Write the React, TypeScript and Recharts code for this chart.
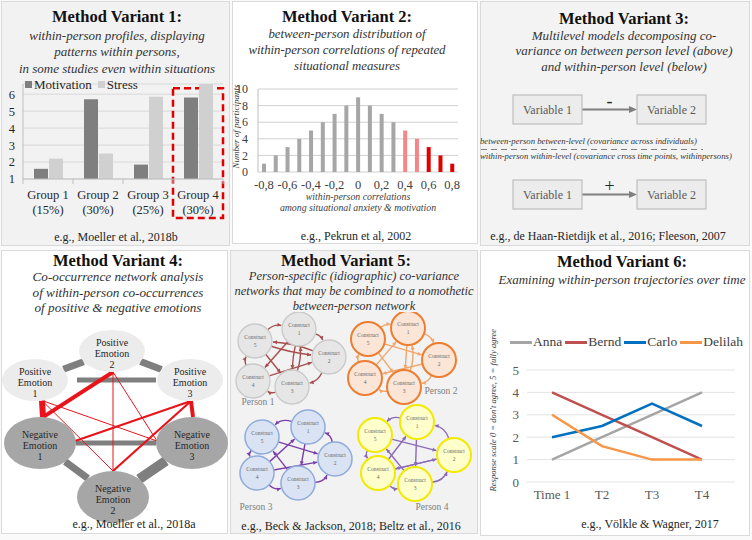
import React from 'react';
import {
  BarChart, Bar, Cell, XAxis, YAxis, CartesianGrid, Legend, LineChart, Line,
  ScatterChart, Scatter, ReferenceLine, ReferenceArea, Label,
} from 'recharts';

const SERIF = '"Liberation Serif", "DejaVu Serif Condensed", "DejaVu Serif", serif';

// ---- Variant 1: within-person profiles
const groupNames = ['Group 1', 'Group 2', 'Group 3', 'Group 4'];
const groupShares = ['(15%)', '(30%)', '(25%)', '(30%)'];
const motivation = [1.6, 5.7, 1.85, 5.8];
const stress = [2.2, 2.5, 5.85, 6.6];
const profileTicks = [1, 2, 3, 4, 5, 6];

// ---- Variant 2: distribution of within-person correlations
const corrLabels = ['-0,8', '-0,7', '-0,6', '-0,5', '-0,4', '-0,3', '-0,2', '-0,1', '0',
  '0,1', '0,2', '0,3', '0,4', '0,5', '0,6', '0,7', '0,8'];
const participants = [1, 2, 3, 4, 5, 6, 7, 8, 9, 8, 7, 6, 5, 4, 3, 2, 1];
const participantTicks = [0, 2, 4, 6, 8, 10];

// ---- Variant 3: multilevel decomposition
const variables = ['Variable 1', 'Variable 2'];
const levelSigns = ['-', '+'];
const levelNotes = [
  'between-person between-level (covariance across individuals)',
  'within-person within-level (covariance cross time points, withinpersons)',
];

// ---- Variant 4: co-occurrence network
const emotionNodes = [
  { id: 'P1', valence: 'Positive', n: 1 },
  { id: 'P2', valence: 'Positive', n: 2 },
  { id: 'P3', valence: 'Positive', n: 3 },
  { id: 'N1', valence: 'Negative', n: 1 },
  { id: 'N2', valence: 'Negative', n: 2 },
  { id: 'N3', valence: 'Negative', n: 3 },
];
// [from, to, strength]
const sameValenceLinks: [string, string, number][] = [
  ['P1', 'P2', 7], ['P2', 'P3', 7], ['P1', 'P3', 5],
  ['N1', 'N3', 5], ['N1', 'N2', 7], ['N2', 'N3', 10],
];
const crossValenceLinks: [string, string, number][] = [
  ['P2', 'N1', 4], ['P1', 'N1', 6], ['P3', 'N3', 4], ['P3', 'N1', 2.2], ['P3', 'N2', 2.2],
  ['P2', 'N2', 1], ['P2', 'N3', 1], ['P1', 'N3', 1], ['P1', 'N2', 1],
];

// ---- Variant 5: idiographic networks
const personNames = ['Person 1', 'Person 2', 'Person 3', 'Person 4'];
const constructIds = [1, 2, 3, 4, 5];
// [from, to, bend]
const personLinks: number[][][] = [
  [[5, 1, -0.25], [1, 2, -0.25], [2, 3, -0.25], [3, 4, -0.25], [4, 5, -0.25], [5, 2, 0.05], [5, 3, 0], [1, 3, 0.05], [1, 4, 0], [4, 2, 0], [2, 5, 0.08], [3, 1, 0.1]],
  [[5, 1, -0.25], [1, 2, -0.25], [2, 3, -0.25], [3, 4, -0.25], [4, 5, -0.25], [4, 1, 0], [5, 3, 0], [1, 3, 0], [2, 4, 0], [5, 2, 0], [3, 1, 0.15]],
  [[1, 5, 0.3], [2, 1, 0.3], [3, 2, 0.3], [4, 3, 0.3], [5, 4, 0.3], [5, 2, 0], [4, 1, 0], [4, 2, 0], [3, 5, 0], [1, 3, 0]],
  [[1, 5, 0.3], [2, 1, 0.3], [3, 2, 0.3], [4, 3, 0.3], [5, 4, 0.3], [5, 2, 0], [4, 1, 0], [4, 2, 0], [3, 5, 0], [1, 3, 0], [2, 4, 0]],
];

// ---- Variant 6: trajectories
const timePoints = ['Time 1', 'T2', 'T3', 'T4'];
const anna = [1, 2, 3, 4];
const bernd = [4, 3, 2, 1];
const carlo = [2, 2.5, 3.5, 2.5];
const delilah = [3, 1.6, 1, 1];
const scaleTicks = [0, 1, 2, 3, 4, 5];

// ---------- layout / style (not data)
const panels = [
  { left: 1, top: 1, width: 229, height: 245, bg: '#f2f2f2' },
  { left: 232, top: 1, width: 246, height: 243, bg: '#ffffff' },
  { left: 480, top: 1, width: 270, height: 245, bg: '#f3f3f3' },
  { left: 1, top: 250, width: 227, height: 284, bg: '#ffffff' },
  { left: 230, top: 250, width: 248, height: 284, bg: '#f2f2f2' },
  { left: 480, top: 250, width: 270, height: 286, bg: '#ffffff' },
];

const emotionLayout: Record<string, [number, number]> = {
  P1: [35, 380], P2: [112, 351], P3: [190, 380],
  N1: [40, 443], N2: [113, 497], N3: [192, 443],
};
const ELLIPSE: Record<string, { rx: number; ry: number; fill: string }> = {
  Positive: { rx: 33, ry: 21, fill: '#ececec' },
  Negative: { rx: 36, ry: 26, fill: '#a6a6a6' },
};
const sourceShift: Record<string, number> = { P1: 7, P2: 1, P3: 1 };
const targetSide: Record<string, string> = { 'P3-N1': 'right', 'P2-N3': 'left', 'P1-N3': 'left' };
const targetShift: Record<string, number> = { N1: 3, N2: 0, N3: 1 };

const personLayout: Record<number, [number, number]>[] = [
  { 1: [299, 329], 2: [329, 357], 3: [292, 387], 4: [253, 381], 5: [255, 341] },
  { 1: [408, 328], 2: [439, 360], 3: [404, 387], 4: [365, 378], 5: [368, 339] },
  { 1: [308, 427], 2: [335, 459], 3: [298, 483], 4: [257, 473], 5: [262, 437] },
  { 1: [417, 422], 2: [454, 455], 3: [415, 484], 4: [378, 473], 5: [375, 435] },
];
const personLabelPos = [[258, 403], [441, 392], [256, 508], [432, 508]];
const personStyles = [
  { fill: '#e7e6e6', stroke: '#c9c9c9', sw: 1.3, edge: '#a5504e' },
  { fill: '#fbe5d6', stroke: '#ed7d31', sw: 2, edge: '#f2a66b' },
  { fill: '#dae3f3', stroke: '#8fabdc', sw: 1.5, edge: '#7a3fa8' },
  { fill: '#ffffcc', stroke: '#f2ea00', sw: 2, edge: '#8a6bb5' },
];
const R5 = 17;

const BOX_W = 69;
const BOX_H = 29;
const boxCols = [547.5, 671.5];
const boxRows = [109.5, 194.5];

// ---------- derived tables
const profileData = groupNames.map((group, i) => ({ group, Motivation: motivation[i], Stress: stress[i] }));
const corrData = corrLabels.map((r, i) => ({ r, n: participants[i] }));
const corrColor = (i: number) => (i >= 14 ? '#e00000' : i >= 12 ? '#f4868a' : '#a6a6a6');
const trajectoryData = timePoints.map((t, i) => ({ t, Anna: anna[i], Bernd: bernd[i], Carlo: carlo[i], Delilah: delilah[i] }));
const boxData = levelSigns.flatMap((_, r) => variables.map((v, c) => ({ x: boxCols[c], y: boxRows[r], label: v })));
const emotionData = emotionNodes.map((e) => ({ ...e, x: emotionLayout[e.id][0], y: emotionLayout[e.id][1] }));

// ---------- text helpers
const Txt = ({ cx, cy, size, weight = 400, italic = false, color = '#262626', w = 320, children }: any) => (
  <div style={{
    position: 'absolute', left: cx - w / 2, top: cy - size * 0.65, width: w, textAlign: 'center',
    fontSize: size, lineHeight: `${size * 1.2}px`, fontWeight: weight,
    fontStyle: italic ? 'italic' : 'normal', color, whiteSpace: 'nowrap', fontFamily: SERIF,
    pointerEvents: 'none',
  }}>{children}</div>
);

const Heading = ({ cx, titleY, title, lines, subY, step = 16, subSize = 13, subCx }: any) => (
  <>
    <Txt cx={cx} cy={titleY} size={16.5} weight={700} color="#111">{title}</Txt>
    {lines.map((l: string, i: number) => (
      <Txt key={i} cx={subCx ?? cx} cy={subY + i * step} size={subSize} italic color="#333">{l}</Txt>
    ))}
  </>
);

// rotated axis title, placed beside a vertical axis
const SideTitle = ({ cx, cy, size, children }: any) => (
  <div style={{
    position: 'absolute', left: cx - 120, top: cy - size * 0.6, width: 240, textAlign: 'center',
    fontSize: size, lineHeight: `${size * 1.2}px`, fontStyle: 'italic', color: '#333', whiteSpace: 'nowrap',
    fontFamily: SERIF, transform: 'rotate(-90deg)', transformOrigin: '50% 50%',
  }}>{children}</div>
);

// ---------- Variant 1
const GroupTick = (props: any) => {
  const { x, y, payload, index } = props;
  return (
    <g>
      <line x1={x - 25} y1={y - 8} x2={x - 25} y2={y - 3} stroke="#bfbfbf" />
      {index === groupNames.length - 1 && <line x1={x + 25} y1={y - 8} x2={x + 25} y2={y - 3} stroke="#bfbfbf" />}
      <text x={x} y={y} textAnchor="middle" fontFamily={SERIF} fontSize={12.5} fill="#262626">
        <tspan x={x} dy={12}>{payload.value}</tspan>
        <tspan x={x} dy={14.5}>{groupShares[index]}</tspan>
      </text>
    </g>
  );
};

const ProfileLegend = ({ payload }: any) => (
  <div style={{ display: 'flex', fontFamily: SERIF, fontSize: 13, color: '#262626', lineHeight: '15px', whiteSpace: 'nowrap' }}>
    {(payload || []).map((p: any) => (
      <span key={p.value} style={{ display: 'flex', alignItems: 'center', marginRight: 6 }}>
        <span style={{ width: 7, height: 7, background: p.color, marginRight: 2 }} />
        {p.value}
      </span>
    ))}
  </div>
);

const ProfileChart = () => (
  <BarChart width={230} height={160} data={profileData} margin={{ top: 14, right: 7, left: 5, bottom: 11 }}
    barGap={1} barCategoryGap={11}>
    <CartesianGrid vertical={false} stroke="#d9d9d9" />
    <XAxis dataKey="group" height={40} interval={0} axisLine={{ stroke: '#bfbfbf' }} tickLine={false} tick={<GroupTick />} />
    <YAxis domain={[1, 6.6]} ticks={profileTicks} interval={0} width={18} axisLine={{ stroke: '#bfbfbf' }} tickLine={false}
      tick={{ fontFamily: SERIF, fontSize: 12.5, fill: '#262626' }} />
    <Legend verticalAlign="middle" align="center" layout="horizontal"
      wrapperStyle={{ top: 7, left: 25, width: 'auto' }} content={ProfileLegend} />
    <Bar dataKey="Motivation" fill="#7f7f7f" isAnimationActive={false} />
    <Bar dataKey="Stress" fill="#d0d0d0" isAnimationActive={false} />
    <ReferenceArea x1="Group 4" x2="Group 4" y1={-1.3} y2={6.35} ifOverflow="visible"
      fill="none" fillOpacity={0} stroke="#e00000" strokeWidth={2.5} strokeDasharray="7 4" />
  </BarChart>
);

// ---------- Variant 2
const CorrAxisTitle = ({ viewBox }: any) => {
  const cx = viewBox.x + viewBox.width / 2;
  return (
    <text x={cx} y={viewBox.y} textAnchor="middle" fontFamily={SERIF} fontSize={9.8} fontStyle="italic" fill="#404040">
      <tspan x={cx} dy={28}>within-person correlations</tspan>
      <tspan x={cx} dy={10.5}>among situational anxiety &amp; motivation</tspan>
    </text>
  );
};

const CorrChart = () => (
  <BarChart width={235} height={140} data={corrData} margin={{ top: 14, right: 10, left: 4, bottom: 0 }}>
    <CartesianGrid vertical={false} stroke="#d0d0d0" />
    <XAxis dataKey="r" height={43} interval={1} axisLine={false} tickLine={false}
      tick={{ fontFamily: SERIF, fontSize: 12.5, fill: '#404040' }}>
      <Label content={(p: any) => <CorrAxisTitle viewBox={p.viewBox} />} />
    </XAxis>
    <YAxis domain={[0, 10]} ticks={participantTicks} interval={0} width={21}
      axisLine={{ stroke: '#bfbfbf' }} tickLine={false} tickMargin={4}
      tick={{ fontFamily: SERIF, fontSize: 12, fill: '#404040' }} />
    <Bar dataKey="n" barSize={4} isAnimationActive={false}>
      {corrData.map((d, i) => <Cell key={d.r} fill={corrColor(i)} />)}
    </Bar>
  </BarChart>
);

// ---------- Variant 3
const VariableBox = ({ cx, cy, payload }: any) => (
  <g>
    <rect x={cx - BOX_W / 2} y={cy - BOX_H / 2} width={BOX_W} height={BOX_H} fill="#ececec" stroke="#bfbfbf" strokeWidth={1.2} />
    <text x={cx} y={cy + 4} textAnchor="middle" fontFamily={SERIF} fontSize={12} fill="#595959">{payload.label}</text>
  </g>
);

const FlowArrow = ({ x1, y1, x2, y2, sign }: any) => (
  <g>
    <line x1={x1} y1={y1} x2={x2 - 6} y2={y2} stroke="#808080" strokeWidth={1.8} />
    <polygon points={`${x2},${y2} ${x2 - 8},${y2 - 3.5} ${x2 - 8},${y2 + 3.5}`} fill="#808080" />
    <text x={(x1 + x2) / 2} y={y1 - 3} textAnchor="middle" fontSize={18} fontFamily={SERIF} fill="#262626">{sign}</text>
  </g>
);

const MultilevelDiagram = () => (
  <ScatterChart width={270} height={135} margin={{ top: 0, right: 0, bottom: 0, left: 0 }}>
    <XAxis type="number" dataKey="x" domain={[480, 750]} hide />
    <YAxis type="number" dataKey="y" domain={[85, 220]} reversed hide />
    <ReferenceLine segment={[{ x: 481, y: 149.5 }, { x: 703, y: 149.5 }]} stroke="#808080" strokeWidth={1.2} strokeDasharray="6 4" />
    {boxRows.map((row, r) => (
      <ReferenceLine key={r} segment={[{ x: boxCols[0] + BOX_W / 2, y: row }, { x: boxCols[1] - BOX_W / 2, y: row }]}
        shape={(p: any) => <FlowArrow {...p} sign={levelSigns[r]} />} />
    ))}
    <Scatter data={boxData} shape={(p: any) => <VariableBox {...p} />} isAnimationActive={false} />
  </ScatterChart>
);

// ---------- Variant 4
const valenceOf = (id: string) => (id[0] === 'P' ? 'Positive' : 'Negative');

const boundaryPoint = (id: string, tx: number, ty: number, gap = 0) => {
  const [cx, cy] = emotionLayout[id];
  const { rx, ry } = ELLIPSE[valenceOf(id)];
  const dx = tx - cx;
  const dy = ty - cy;
  const t = 1 / Math.sqrt((dx / rx) ** 2 + (dy / ry) ** 2);
  const len = Math.hypot(dx, dy);
  return { x: cx + dx * t + (dx / len) * gap, y: cy + dy * t + (dy / len) * gap };
};

const anchorPoint = (id: string, side: string, shift = 0) => {
  const [cx, cy] = emotionLayout[id];
  const { rx, ry } = ELLIPSE[valenceOf(id)];
  const h = ry * Math.sqrt(1 - (shift / rx) ** 2);
  if (side === 'left') return { x: cx - rx + 1, y: cy - 2 };
  if (side === 'right') return { x: cx + rx - 1, y: cy - 2 };
  if (side === 'top') return { x: cx + shift, y: cy - h };
  return { x: cx + shift, y: cy + h };
};

const EmotionNode = ({ cx, cy, payload }: any) => {
  const s = ELLIPSE[payload.valence];
  return (
    <g>
      <ellipse cx={cx} cy={cy} rx={s.rx} ry={s.ry} fill={s.fill} />
      <text textAnchor="middle" fontFamily={SERIF} fontSize={10} fill="#262626">
        <tspan x={cx} y={cy - 5.5}>{payload.valence}</tspan>
        <tspan x={cx} y={cy + 5.5}>Emotion</tspan>
        <tspan x={cx} y={cy + 16.5}>{payload.n}</tspan>
      </text>
    </g>
  );
};

const EmotionNetwork = () => (
  <ScatterChart width={226} height={214} margin={{ top: 0, right: 0, bottom: 0, left: 0 }}>
    <XAxis type="number" dataKey="x" domain={[2, 228]} hide />
    <YAxis type="number" dataKey="y" domain={[318, 532]} reversed hide />
    {sameValenceLinks.map(([a, b, w]) => {
      const [ax, ay] = emotionLayout[a];
      const [bx, by] = emotionLayout[b];
      const p1 = boundaryPoint(a, bx, by, a === 'P1' && b === 'P3' ? 9 : 0);
      const p2 = boundaryPoint(b, ax, ay, a === 'P1' && b === 'P3' ? 1 : 0);
      return <ReferenceLine key={a + b} segment={[p1, p2]} stroke="#7f7f7f" strokeWidth={w} />;
    })}
    <Scatter data={emotionData} shape={(p: any) => <EmotionNode {...p} />} isAnimationActive={false} />
    {crossValenceLinks.map(([a, b, w]) => {
      const p1 = anchorPoint(a, 'bottom', sourceShift[a]);
      const p2 = anchorPoint(b, targetSide[`${a}-${b}`] || 'top', targetShift[b]);
      return <ReferenceLine key={a + b} segment={[p1, p2]} stroke="#e8141b" strokeWidth={w} />;
    })}
  </ScatterChart>
);

// ---------- Variant 5
const ArcArrow = ({ x1, y1, x2, y2, bend, color, width }: any) => {
  const dx = x2 - x1;
  const dy = y2 - y1;
  const qx = (x1 + x2) / 2 - dy * bend;
  const qy = (y1 + y2) / 2 + dx * bend;
  const sl = Math.hypot(qx - x1, qy - y1);
  const sx = x1 + ((qx - x1) / sl) * R5;
  const sy = y1 + ((qy - y1) / sl) * R5;
  const el = Math.hypot(qx - x2, qy - y2);
  const ex = x2 + ((qx - x2) / el) * (R5 + 1);
  const ey = y2 + ((qy - y2) / el) * (R5 + 1);
  const ang = Math.atan2(ey - qy, ex - qx);
  const ah = 4.5;
  const h1 = `${ex - ah * Math.cos(ang - 0.45)},${ey - ah * Math.sin(ang - 0.45)}`;
  const h2 = `${ex - ah * Math.cos(ang + 0.45)},${ey - ah * Math.sin(ang + 0.45)}`;
  return (
    <g>
      <path d={`M${sx},${sy} Q${qx},${qy} ${ex},${ey}`} fill="none" stroke={color} strokeWidth={width} />
      <polygon points={`${ex},${ey} ${h1} ${h2}`} fill={color} />
    </g>
  );
};

const ConstructNode = ({ cx, cy, payload, look }: any) => (
  <g>
    <circle cx={cx} cy={cy} r={R5} fill={look.fill} stroke={look.stroke} strokeWidth={look.sw} />
    <text textAnchor="middle" fontFamily={SERIF} fontSize={5.5} fill="#666">
      <tspan x={cx} y={cy - 2}>Construct</tspan>
      <tspan x={cx} y={cy + 6}>{payload.n}</tspan>
    </text>
  </g>
);

const PersonNetworks = () => (
  <ScatterChart width={248} height={206} margin={{ top: 0, right: 0, bottom: 0, left: 0 }}>
    <XAxis type="number" dataKey="x" domain={[230, 478]} hide />
    <YAxis type="number" dataKey="y" domain={[312, 518]} reversed hide />
    {personLinks.flatMap((links, pi) => links.map(([a, b, bend], li) => {
      const pa = personLayout[pi][a];
      const pb = personLayout[pi][b];
      return (
        <ReferenceLine key={`${pi}-${li}`} segment={[{ x: pa[0], y: pa[1] }, { x: pb[0], y: pb[1] }]}
          shape={(p: any) => <ArcArrow {...p} bend={bend} color={personStyles[pi].edge} width={1.4} />} />
      );
    }))}
    {personNames.map((name, pi) => (
      <Scatter key={name} name={name} isAnimationActive={false}
        data={constructIds.map((n) => ({ n, x: personLayout[pi][n][0], y: personLayout[pi][n][1] }))}
        shape={(p: any) => <ConstructNode {...p} look={personStyles[pi]} />} />
    ))}
  </ScatterChart>
);

// ---------- Variant 6
const TrajectoryLegend = ({ payload }: any) => (
  <div style={{ display: 'flex', alignItems: 'center', fontFamily: SERIF, fontSize: 13.5, color: '#404040', lineHeight: '16px', whiteSpace: 'nowrap' }}>
    {(payload || []).map((p: any) => (
      <span key={p.value} style={{ display: 'flex', alignItems: 'center', marginRight: 3 }}>
        <span style={{ width: 22, height: 3, background: p.color, marginRight: 1 }} />
        {p.value}
      </span>
    ))}
  </div>
);

const TrajectoryChart = () => (
  <LineChart width={272} height={200} data={trajectoryData} margin={{ top: 50, right: 15, left: 29, bottom: 8 }}>
    <CartesianGrid vertical={false} stroke="#e3e3e3" />
    <XAxis dataKey="t" height={30} interval={0} axisLine={false} tickLine={false} padding={{ left: 25, right: 33 }}
      tick={{ fontFamily: SERIF, fontSize: 13, fill: '#595959' }} />
    <YAxis domain={[0, 5]} ticks={scaleTicks} interval={0} width={20} axisLine={false} tickLine={false}
      tick={{ fontFamily: SERIF, fontSize: 13, fill: '#595959' }} />
    <Legend verticalAlign="middle" align="center" layout="horizontal"
      wrapperStyle={{ top: 14, left: 32, width: 'auto' }} content={TrajectoryLegend} />
    <Line type="linear" dataKey="Anna" stroke="#a5a5a5" strokeWidth={2.5} dot={false} isAnimationActive={false} />
    <Line type="linear" dataKey="Bernd" stroke="#c0504d" strokeWidth={2.5} dot={false} isAnimationActive={false} />
    <Line type="linear" dataKey="Carlo" stroke="#0070c0" strokeWidth={2.5} dot={false} isAnimationActive={false} />
    <Line type="linear" dataKey="Delilah" stroke="#f79646" strokeWidth={2.5} dot={false} isAnimationActive={false} />
  </LineChart>
);

const At = ({ left, top, children }: any) => (
  <div style={{ position: 'absolute', left, top }}>{children}</div>
);

export default function App() {
  return (
    <div style={{ position: 'absolute', left: 0, top: 0, width: 752, height: 540, background: '#fafafa', overflow: 'hidden', fontFamily: SERIF }}>
      {panels.map((p, i) => (
        <div key={i} style={{ position: 'absolute', left: p.left, top: p.top, width: p.width, height: p.height, background: p.bg, border: '1px solid #dadada', boxSizing: 'border-box' }} />
      ))}

      <Heading cx={117} titleY={18} title="Method Variant 1:" subY={36} step={16.5}
        lines={['within-person profiles, displaying', 'patterns within persons,', 'in some studies even within situations']} />
      <At left={0} top={70}><ProfileChart /></At>
      <Txt cx={116} cy={238} size={12}>e.g., Moeller et al., 2018b</Txt>

      <Heading cx={347} titleY={18} title="Method Variant 2:" subY={35} step={16} subSize={12.8}
        lines={['between-person distribution of', 'within-person correlations of repeated', 'situational measures']} />
      <At left={233} top={75}><CorrChart /></At>
      <SideTitle cx={236} cy={126} size={9}>Number of participants</SideTitle>
      <Txt cx={356} cy={237} size={12}>e.g., Pekrun et al, 2002</Txt>

      <Heading cx={624} titleY={20} title="Method Variant 3:" subY={36} step={15.5}
        lines={['Multilevel models decomposing co-', 'variance on between person level (above)', 'and within-person level (below)']} />
      <At left={480} top={85}><MultilevelDiagram /></At>
      {levelNotes.map((note, i) => (
        <div key={i} style={{ position: 'absolute', left: 480, top: 142 + i * 15 - 6, fontSize: 8.7, lineHeight: '10px', fontStyle: 'italic', color: '#333', whiteSpace: 'nowrap' }}>{note}</div>
      ))}
      <Txt cx={608} cy={237} size={12}>e.g., de Haan-Rietdijk et al., 2016; Fleeson, 2007</Txt>

      <Heading cx={118} titleY={262} title="Method Variant 4:" subY={278} step={15.5} subSize={13.2}
        lines={['Co-occurrence network analysis', 'of within-person co-occurrences', 'of positive & negative emotions']} />
      <At left={2} top={318}><EmotionNetwork /></At>
      <Txt cx={134} cy={525} size={12}>e.g., Moeller et al., 2018a</Txt>

      <Heading cx={346} titleY={262} title="Method Variant 5:" subY={277} step={15} subSize={12.5} subCx={354}
        lines={['Person-specific (idiographic) co-variance', 'networks that may be combined to a nomothetic', 'between-person network']} />
      <At left={230} top={312}><PersonNetworks /></At>
      {personNames.map((name, i) => (
        <Txt key={name} cx={personLabelPos[i][0]} cy={personLabelPos[i][1]} size={9.5} color="#808080" w={80}>{name}</Txt>
      ))}
      <Txt cx={351} cy={527} size={12}>e.g., Beck &amp; Jackson, 2018; Beltz et al., 2016</Txt>

      <Heading cx={622} titleY={263} title="Method Variant 6:" subY={280} lines={['Examining within-person trajectories over time']} />
      <At left={478} top={320}><TrajectoryChart /></At>
      <SideTitle cx={493} cy={410} size={8.6}>Response scale 0 = don&apos;t agree, 5 = fully agree</SideTitle>
      <Txt cx={650} cy={525} size={12}>e.g., Völkle &amp; Wagner, 2017</Txt>
    </div>
  );
}
